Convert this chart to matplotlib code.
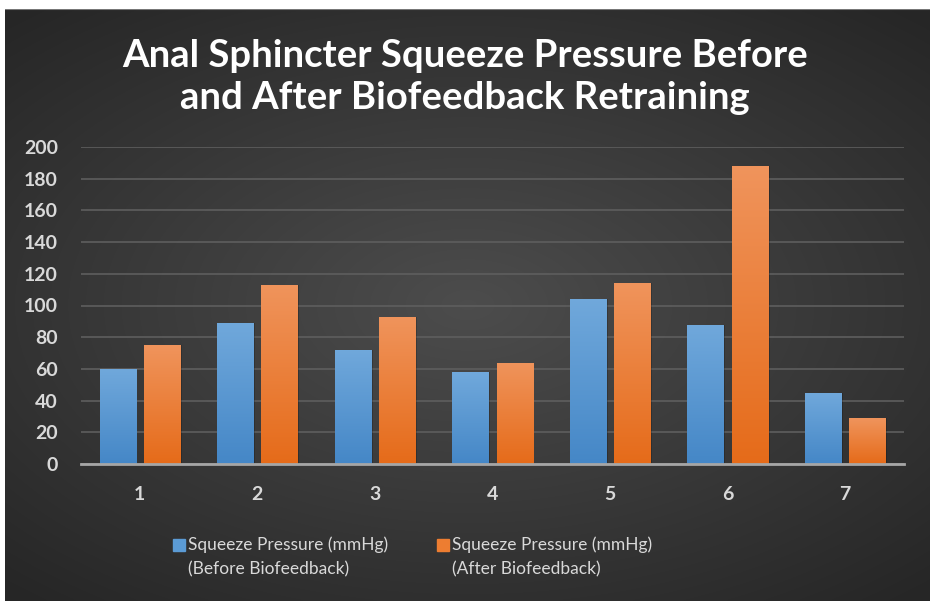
import numpy as np
import matplotlib.pyplot as plt
from matplotlib.patches import Rectangle

patients = ['1', '2', '3', '4', '5', '6', '7']
before = [60, 89, 72, 58, 104, 88, 45]
after = [75, 113, 93, 64, 114, 188, 29]
labels = ['Squeeze Pressure (mmHg)\n(Before Biofeedback)',
          'Squeeze Pressure (mmHg)\n(After Biofeedback)']
title = 'Anal Sphincter Squeeze Pressure Before\nand After Biofeedback Retraining'

plt.rcParams['font.family'] = ['Lato', 'DejaVu Sans']

fig = plt.figure(figsize=(9.3, 6.01), dpi=100)
fig.patch.set_facecolor('white')

# dark panel with radial gradient
bg = fig.add_axes([5 / 930, 0, 925 / 930, 1 - 9 / 601], zorder=0)
yy, xx = np.mgrid[-1:1:300j, -1:1:450j]
r = np.sqrt((xx * 0.85) ** 2 + (yy * 0.95) ** 2)
grad = np.clip(1 - r / 1.25, 0, 1)
img = np.zeros(grad.shape + (3,))
lo, hi = np.array([0.15, 0.15, 0.15]), np.array([0.30, 0.30, 0.30])
for c in range(3):
    img[..., c] = lo[c] + (hi[c] - lo[c]) * grad
bg.imshow(img, aspect='auto', extent=[0, 1, 0, 1], interpolation='bicubic')
bg.plot([0, 1], [1, 1], color='#777777', lw=1.5, transform=bg.transAxes)
bg.axis('off')

ax = fig.add_axes([81 / 930, 1 - 464 / 601, 823 / 930, 317 / 601], zorder=1)
ax.patch.set_alpha(0)

x = np.arange(len(patients))
w = 0.307
off = 0.188
b1 = ax.bar(x - off, before, w, color='#5b9bd5', zorder=3)
b2 = ax.bar(x + off, after, w, color='#ed7d31', zorder=3)

# vertical gradient on bars
def shade(bars, top, bottom):
    g = np.linspace(0, 1, 100).reshape(-1, 1)
    top, bottom = np.array(top), np.array(bottom)
    im = bottom + (top - bottom) * g
    im = im.reshape(100, 1, 3)
    for b in bars:
        x0, y0 = b.get_x(), b.get_y()
        h, wd = b.get_height(), b.get_width()
        ax.add_patch(Rectangle((x0 + 0.015, y0), wd, h, color='black',
                               alpha=0.2, zorder=2, lw=0))
        i = ax.imshow(im, extent=[x0, x0 + wd, y0, y0 + h], origin='lower',
                      aspect='auto', zorder=4, interpolation='bilinear')
        i.set_clip_path(b)

shade(b1, (0.44, 0.66, 0.86), (0.27, 0.53, 0.78))
shade(b2, (0.94, 0.58, 0.36), (0.90, 0.42, 0.10))

ax.set_xlim(-0.5, len(patients) - 0.5)
ax.set_ylim(0, 200)
ax.set_yticks(range(0, 201, 20))
ax.set_xticks(x)
ax.set_xticklabels(patients)
ax.yaxis.grid(True, color='#5e5e5e', lw=1.2, zorder=0)
ax.set_axisbelow(True)
for s in ['top', 'right', 'left']:
    ax.spines[s].set_visible(False)
ax.spines['bottom'].set_color('#a6a6a6')
ax.spines['bottom'].set_linewidth(2)
ax.spines['bottom'].set_zorder(5)
ax.tick_params(axis='both', length=0, colors='#d9d9d9', labelsize=14)
ax.tick_params(axis='y', pad=16.5)
ax.tick_params(axis='x', pad=16)
for t in ax.get_yticklabels() + ax.get_xticklabels():
    t.set_fontweight('bold')

fig.text(0.5, 1 - 77 / 601, title, ha='center', va='center', color='white',
         fontsize=27.5, fontweight='bold', linespacing=1.3)

# legend
colors = ['#5b9bd5', '#ed7d31']
sq_x = [173, 437]
for lab, col, sx in zip(labels, colors, sq_x):
    fig.patches.append(Rectangle((sx / 930, 1 - 551 / 601), 12 / 930, 12 / 601,
                                 transform=fig.transFigure, color=col, zorder=3))
    fig.text((sx + 15) / 930, 1 - 536 / 601, lab, ha='left', va='top',
             color='#d9d9d9', fontsize=12.5, linespacing=1.65, zorder=3)

fig.savefig('out.png', dpi=100, facecolor=fig.get_facecolor())
